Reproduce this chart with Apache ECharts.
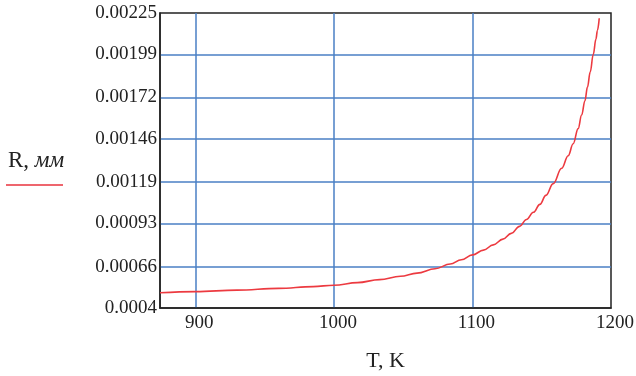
<!DOCTYPE html>
<html>
<head>
<meta charset="utf-8">
<script src="https://cdn.jsdelivr.net/npm/echarts@6/dist/echarts.min.js"></script>
<style>
  html, body { margin: 0; padding: 0; background: #fff; }
  #chart { width: 636px; height: 376px; }
</style>
</head>
<body>
<div id="chart"></div>
<script>
// temperature, K
const tempK = [874.5, 900, 930, 960, 985, 1000, 1017, 1033, 1048, 1060, 1073, 1084,
  1092, 1100, 1108, 1115, 1122, 1128, 1134, 1139, 1144, 1148.7, 1153, 1158.3, 1164.4,
  1169.1, 1172.7, 1176.3, 1178.8, 1181.2, 1183, 1185, 1187.2, 1189.1, 1190.2, 1191.5];
// radius, mm
const radiusMm = [0.000496, 0.000503, 0.000512, 0.000523, 0.000534, 0.000543, 0.000559,
  0.000578, 0.000599, 0.000619, 0.000646, 0.000676, 0.000703, 0.000733, 0.000763,
  0.000796, 0.000832, 0.000868, 0.000912, 0.000955, 0.001, 0.00105, 0.001106, 0.00118,
  0.001276, 0.001355, 0.00143, 0.001525, 0.00161, 0.0017, 0.001785, 0.00188, 0.00199,
  0.002085, 0.00214, 0.002217];

const xTicks = [900, 1000, 1100, 1200];
const yTicks = [0.0004, 0.00066, 0.00093, 0.00119, 0.00146, 0.00172, 0.00199, 0.00225];

let myChart = echarts.init(document.getElementById("chart"));
let points = [];
for (let i = 0; i < tempK.length; i++) points.push([tempK[i], radiusMm[i]]);

let gridColor = "#4a7fc4";
let font = "Liberation Serif";

let option = {
  animation: false,
  grid: {
    left: 160, right: 25, top: 13, bottom: 68,
    outerBoundsMode: "none",
    show: true, borderColor: "#222", borderWidth: 1.5
  },
  xAxis: {
    type: "value",
    min: 874.5,
    max: 1200,
    name: "T, K",
    nameLocation: "middle",
    nameGap: 42,
    nameTextStyle: { fontFamily: font, fontSize: 22, color: "#222" },
    axisLine: { show: true, lineStyle: { color: "#222", width: 1.5 } },
    axisTick: { show: false, customValues: xTicks.slice(0, 3) },
    axisLabel: {
      customValues: xTicks,
      margin: 6,
      padding: [0, 0, 0, 8],
      formatter: function (v) { return String(v); },
      fontFamily: font, fontSize: 19, color: "#222"
    },
    splitLine: { show: true, lineStyle: { color: gridColor, width: 1.5 } }
  },
  yAxis: {
    type: "value",
    min: 0.0004,
    max: 0.00225,
    axisLine: { show: true, lineStyle: { color: "#222", width: 1.5 } },
    axisTick: { show: false, customValues: yTicks.slice(1, 7) },
    axisLabel: {
      customValues: yTicks,
      margin: 3,
      padding: [4, 0, 0, 0],
      fontFamily: font, fontSize: 19, color: "#222"
    },
    splitLine: { show: true, lineStyle: { color: gridColor, width: 1.5 } }
  },
  graphic: [
    {
      type: "text",
      left: 8,
      top: 149,
      style: {
        text: "{a|R, }{b|мм}",
        rich: {
          a: { fontFamily: font, fontSize: 23, fill: "#222" },
          b: { fontFamily: font, fontSize: 23, fontStyle: "italic", fill: "#222" }
        }
      }
    },
    {
      type: "line",
      shape: { x1: 6, y1: 185, x2: 63, y2: 185 },
      style: { stroke: "#e8323c", lineWidth: 1.5 }
    }
  ],
  series: [
    {
      type: "line",
      data: points,
      smooth: 0.4,
      smoothMonotone: "x",
      showSymbol: false,
      lineStyle: { color: "#ec3a40", width: 1.6 }
    }
  ]
};

if (option && typeof option === "object") myChart.setOption(option);
</script>
</body>
</html>
